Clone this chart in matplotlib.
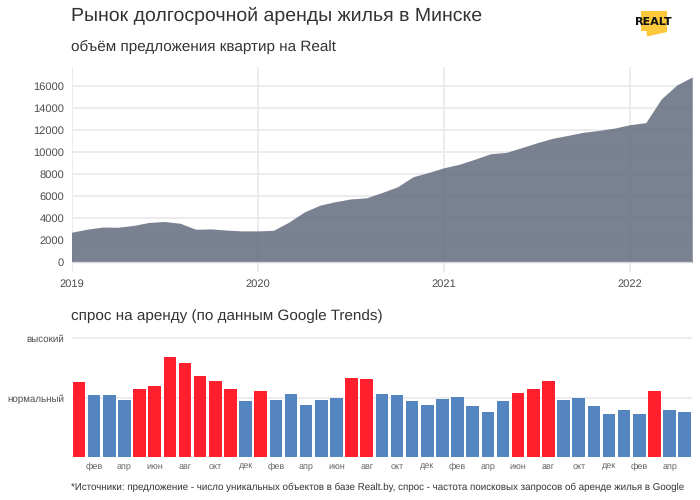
import numpy as np
import matplotlib.pyplot as plt
from matplotlib.patches import Polygon

plt.rcParams['font.family'] = ['Liberation Sans', 'DejaVu Sans']
plt.rcParams['text.hinting'] = 'no_hinting'
plt.rcParams['text.hinting_factor'] = 8

# monthly values, Jan 2019 .. May 2022
supply = [2730, 3000, 3200, 3180, 3350, 3620, 3700, 3540, 3000, 3030, 2920, 2850,
          2850, 2900, 3640, 4570, 5180, 5500, 5750, 5850, 6330, 6850, 7760, 8150,
          8580, 8900, 9360, 9850, 9970, 10400, 10850, 11250, 11520, 11800, 11970, 12180,
          12490, 12670, 14820, 16090, 16820]
demand = [63, 52, 52, 48, 57, 60, 84, 79, 68, 64, 57, 47,
          56, 48, 53, 44, 48, 50, 67, 66, 53, 52, 47, 44,
          49, 51, 43, 38, 47, 54, 57, 64, 48, 50, 43, 36,
          40, 36, 56, 40, 38]
high_demand = [0, 4, 5, 6, 7, 8, 9, 10, 12, 18, 19, 29, 30, 31, 38]

year_labels = ['2019', '2020', '2021', '2022']
month_labels = ['фев', 'апр', 'июн', 'авг', 'окт', 'дек'] * 3 + ['фев', 'апр']
demand_labels = ['высокий', 'нормальный']

GRID = '#ebebee'
TEXT = '#4d4d4d'
W, H = 700, 500

fig = plt.figure(figsize=(7, 5), dpi=100)


def add_axes_px(left, top, right, bottom):
    return fig.add_axes([left / W, 1 - bottom / H, (right - left) / W, (bottom - top) / H])


def clean(ax):
    for s in ax.spines.values():
        s.set_visible(False)
    ax.set_axisbelow(True)
    ax.tick_params(length=0)


# supply area
ax1 = add_axes_px(71.5, 67, 692.3, 272)
months = np.arange(len(supply))
ax1.fill_between(months, supply, color='#636c7e', alpha=0.85, lw=0, zorder=3)
ax1.plot([0, 40], [0, 0], color='#d5d6da', lw=1, zorder=4)
ax1.plot([40, 40], [0, supply[-1]], color='#d5d6da', lw=0.8, zorder=4)
ax1.set_xlim(0, 40)
ax1.set_ylim(-880, 17720)
ax1.set_yticks(np.arange(0, 16001, 2000))
ax1.set_xticks(np.arange(len(year_labels)) * 12)
ax1.set_xticklabels(year_labels)
ax1.grid(True, color=GRID, lw=1.3)
clean(ax1)
ax1.tick_params(labelsize=8, labelcolor=TEXT)
ax1.tick_params(axis='y', pad=5.4)
ax1.tick_params(axis='x', pad=5)

# demand bars
ax2 = add_axes_px(71.5, 330, 692.3, 457.3)
pos = np.arange(len(demand))
colors = ['#ff1f2d' if i in high_demand else '#5585c0' for i in pos]
ax2.bar(pos, demand, width=0.83, color=colors, lw=0, zorder=3)
ax2.set_xlim(-0.5, 40.5)
ax2.set_ylim(0, 107)
ax2.set_yticks([100, 50])
ax2.set_yticklabels(demand_labels)
ax2.set_xticks(pos[1::2])
ax2.set_xticklabels(month_labels)
ax2.grid(True, axis='y', color=GRID, lw=1.3)
clean(ax2)
ax2.tick_params(axis='y', labelsize=7, labelcolor=TEXT, pad=5.4)
ax2.tick_params(axis='x', labelsize=6.5, labelcolor='#666666', pad=3.5)

# titles and note
fig.text(71 / W, 1 - 16 / H, 'Рынок долгосрочной аренды жилья в Минске', fontsize=14,
         color='#333333', va='center')
fig.text(71 / W, 1 - 46.5 / H, 'объём предложения квартир на Realt', fontsize=11,
         color='#333333', va='center')
fig.text(71 / W, 1 - 316.5 / H, 'спрос на аренду (по данным Google Trends)', fontsize=11,
         color='#333333', va='center')
fig.text(71 / W, 1 - 487.5 / H,
         '*Источники: предложение - число уникальных объектов в базе Realt.by, '
         'спрос - частота поисковых запросов об аренде жилья в Google',
         fontsize=7, color='#333333', va='center')

# logo
logo_shape = [(641, 11), (667, 11), (667, 32), (647, 36.5), (646.5, 31), (641, 31)]
fig.add_artist(Polygon([(x / W, 1 - y / H) for x, y in logo_shape], closed=True,
                       transform=fig.transFigure, color='#fdc93a', lw=0))
fig.text(653.7 / W, 1 - 21.5 / H, 'REALT', fontsize=8, fontweight='bold', color='#111111',
         ha='center', va='center', family=['DejaVu Sans'])

fig.savefig('out.png', dpi=100)
